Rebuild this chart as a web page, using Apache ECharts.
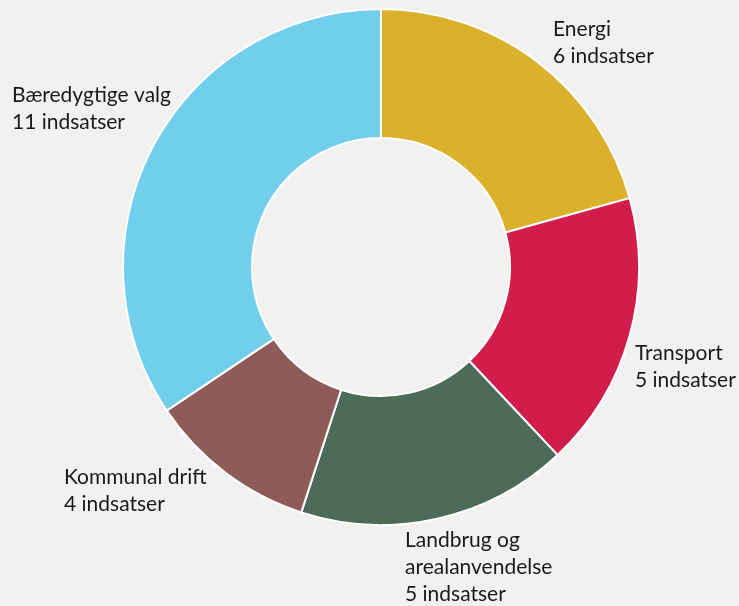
<!DOCTYPE html>
<html><head><meta charset="utf-8">
<script src="https://cdn.jsdelivr.net/npm/echarts@6/dist/echarts.min.js"></script>
<style>html,body{margin:0;padding:0;background:#f1f1ef;}#c{width:739px;height:606px;}</style>
</head><body><div id="c"></div>
<script>
const categories = ['Energi', 'Transport', 'Landbrug og\narealanvendelse', 'Kommunal drift', 'Bæredygtige valg'];
const counts = [6, 5, 5, 4, 11];
const shares = [20.7, 17.3, 17.0, 10.6, 34.4];
const colors = ['#dbb12c', '#d21d4c', '#4c6b59', '#8f5b59', '#71cfec'];
const labelPos = [[553, 16], [635, 340], [405, 527], [64, 464], [12, 82]];

const chart = echarts.init(document.getElementById('c'));
chart.setOption({
  backgroundColor: '#f1f1ef',
  animation: false,
  series: [{
    type: 'pie',
    center: [381, 267],
    radius: [129, 258],
    startAngle: 90,
    clockwise: true,
    itemStyle: { borderColor: '#ffffff', borderWidth: 2 },
    label: {
      show: true,
      position: 'outside',
      formatter: p => p.name + '\n' + counts[p.dataIndex] + ' indsatser',
      fontFamily: 'Lato, "Open Sans", sans-serif',
      fontSize: 21,
      lineHeight: 27,
      color: '#1a1a1a',
      align: 'left',
      overflow: 'none',
      width: 400
    },
    labelLine: { show: false },
    labelLayout: function (p) {
      const pos = labelPos[p.dataIndex];
      return { x: pos[0], y: pos[1], align: 'left', verticalAlign: 'top' };
    },
    emphasis: { disabled: true },
    data: categories.map((c, i) => ({ name: c, value: shares[i], itemStyle: { color: colors[i] } }))
  }]
});
</script></body></html>
